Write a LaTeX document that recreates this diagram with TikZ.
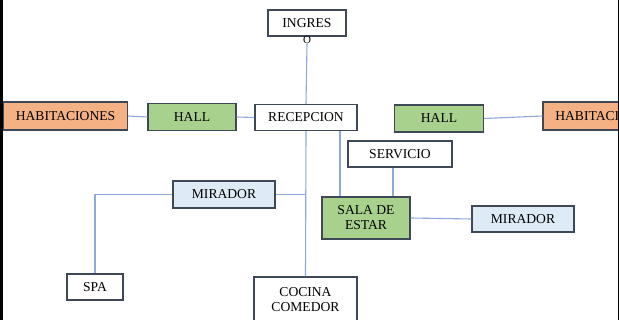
\documentclass[tikz,border=0pt]{standalone}
\usepackage{fontspec}
\setmainfont{Liberation Serif}
\definecolor{boxline}{HTML}{3E4856}
\definecolor{wire}{HTML}{8EA9DB}
\definecolor{habfill}{HTML}{F4B183}
\definecolor{hallfill}{HTML}{A9D18E}
\definecolor{mirfill}{HTML}{DEEBF7}
\tikzset{
  room/.style={draw=boxline, line width=1.3pt, fill=white, inner sep=0pt,
    align=center, font=\fontsize{13.6}{15}\selectfont},
  wired/.style={draw=wire, line width=1.1pt}
}
\begin{document}
\begin{tikzpicture}[x=1pt, y=-1pt]
                \useasboundingbox (0,0) rectangle (619,320);
                \clip (0,0) rectangle (619,320);
                \fill[white] (0,0) rectangle (619,320);
                % nodes
                \node[room, minimum width=78pt, minimum height=26pt] (ingres) at (307,23) {INGRES};
                \node[inner sep=0pt, font=\fontsize{11}{12}\selectfont] (puerta) at (307,39.5) {O};
                \node[room, minimum width=102pt, minimum height=26pt] (recepcion) at (306,117.5) {RECEPCION};
                \node[room, fill=hallfill, minimum width=88pt, minimum height=27pt] (hallL) at (192,117) {HALL};
                \node[room, fill=habfill, minimum width=124pt, minimum height=28pt] (habL) at (65.5,116) {HABITACIONES};
                \node[room, fill=hallfill, minimum width=89pt, minimum height=27pt] (hallR) at (439,118.5) {HALL};
                \node[room, fill=habfill, minimum width=124pt, minimum height=28pt] (habR) at (605,116) {HABITACIONES};
                \node[room, minimum width=104pt, minimum height=26pt] (servicio) at (400,154) {SERVICIO};
                \node[room, fill=hallfill, minimum width=88pt, minimum height=42pt] (sala) at (366,218) {SALA DE\\ESTAR};
                \node[room, fill=mirfill, minimum width=102pt, minimum height=26pt] (miradorR) at (523,219) {MIRADOR};
                \node[room, fill=mirfill, minimum width=102pt, minimum height=27pt] (miradorL) at (224,194.5) {MIRADOR};
                \node[room, minimum width=56pt, minimum height=26pt] (spa) at (95,287) {SPA};
                \node[room, minimum width=103pt, minimum height=46pt] (cocina) at (305.5,300) {COCINA\\COMEDOR};
                % connectors
                \draw[wired] (puerta.south) -- (recepcion.north);
                \draw[wired] (habL.east) -- (hallL.west);
                \draw[wired] (hallL.east) -- (recepcion.west);
                \draw[wired] (hallR.east) -- (habR.west);
                \draw[wired] (recepcion.south) -- (cocina.north);
                \draw[wired] ([xshift=34pt]recepcion.south) -- ([xshift=34pt]recepcion.south |- sala.north);
                \draw[wired] ([xshift=-7pt]servicio.south) -- ([xshift=-7pt]servicio.south |- sala.north);
                \draw[wired] (sala.east) -- (miradorR.west);
                \draw[wired] (miradorL.east) -- (recepcion.south |- miradorL.east);
                \draw[wired] (miradorL.west) -| (spa.north);
                % frame
                \fill[black] (0,0) rectangle (2.8,320);
                \fill[black] (617.5,0) rectangle (619,320);
            \end{tikzpicture}
\end{document}
